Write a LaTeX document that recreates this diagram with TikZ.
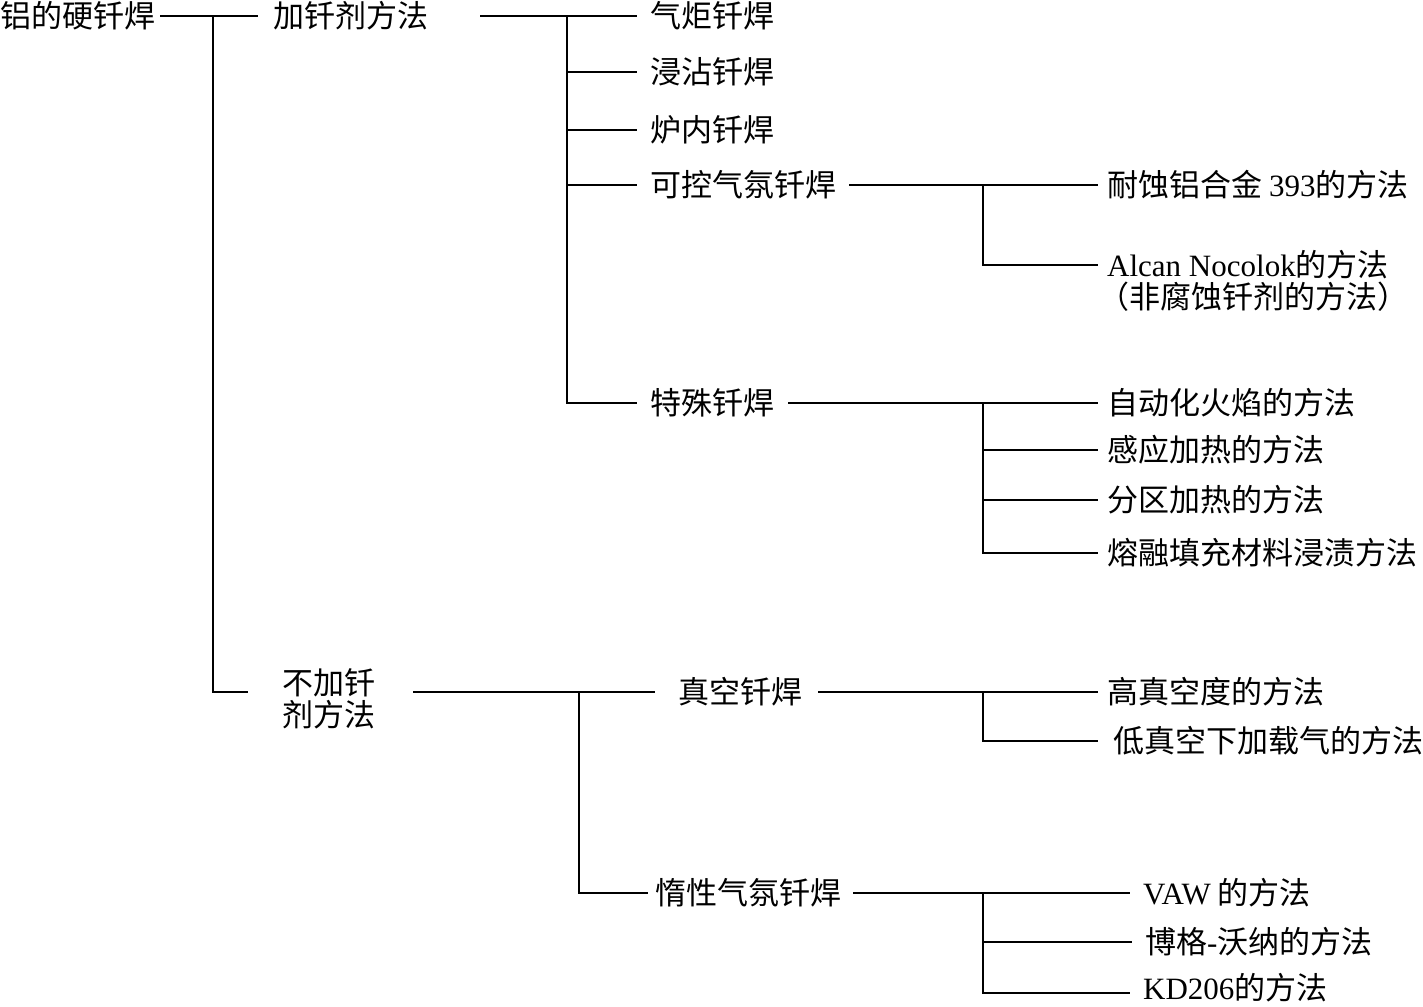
\documentclass[tikz,border=0pt]{standalone}
\usepackage{fontspec}
\setmainfont{Liberation Serif}
\newfontfamily\cjk{Noto Sans CJK SC}
\newcommand{\lt}[1]{{\rmfamily #1}}
\begin{document}
\begin{tikzpicture}[x=1pt,y=-1pt,
  lbl/.style={anchor=west,inner sep=0pt,font=\cjk\fontsize{31}{32}\selectfont,align=left},
  conn/.style={line width=1.4pt}]
\useasboundingbox (0,0) rectangle (1423,1006);
% nodes
\node[lbl] (root) at (0,16) {铝的硬钎焊};
\node[lbl] (a1) at (273,16) {加钎剂方法};
\node[lbl] (a2) at (282,699) {不加钎\\剂方法};
\node[lbl] (b1) at (650,16) {气炬钎焊};
\node[lbl] (b2) at (650,72) {浸沾钎焊};
\node[lbl] (b3) at (650,130) {炉内钎焊};
\node[lbl] (b4) at (650,185) {可控气氛钎焊};
\node[lbl] (b5) at (650,403) {特殊钎焊};
\node[lbl] (c1) at (1107,185) {耐蚀铝合金 \lt{393}的方法};
\node[lbl] (c2) at (1107,281) {\lt{Alcan Nocolok}的方法\\\hspace*{-9pt}（非腐蚀钎剂的方法）};
\node[lbl] (d1) at (1107,403) {自动化火焰的方法};
\node[lbl] (d2) at (1107,450) {感应加热的方法};
\node[lbl] (d3) at (1107,500) {分区加热的方法};
\node[lbl] (d4) at (1107,553) {熔融填充材料浸渍方法};
\node[lbl] (e1) at (678,692) {真空钎焊};
\node[lbl] (e2) at (655,893) {惰性气氛钎焊};
\node[lbl] (f1) at (1107,692) {高真空度的方法};
\node[lbl] (f2) at (1113,741) {低真空下加载气的方法};
\node[lbl] (g1) at (1143,893) {\lt{VAW} 的方法};
\node[lbl] (g2) at (1145,942) {博格\lt{-}沃纳的方法};
\node[lbl] (g3) at (1143,988) {\lt{KD206}的方法};
% junctions
\coordinate (j0) at (213,16);
\coordinate (a2in) at (248,692);
\coordinate (a2out) at (413,692);
\coordinate (j1) at (567,16);
\coordinate (j2) at (983,185);
\coordinate (c2in) at (1098,265);
\coordinate (j3) at (983,403);
\coordinate (j4) at (579,692);
\coordinate (j5) at (983,692);
\coordinate (j6) at (983,893);
\coordinate (g3in) at (1130,993);
% connectors
\draw[conn,shorten <=5pt,shorten >=15pt] (root.east) -- (a1.west);
\draw[conn] (j0) |- (a2in);
\draw[conn,shorten <=52pt,shorten >=13pt] (a1.east) -- (b1.west);
\draw[conn,shorten >=13pt] (j1) |- (b2.west);
\draw[conn,shorten >=13pt] (j1) |- (b3.west);
\draw[conn,shorten >=13pt] (j1) |- (b4.west);
\draw[conn,shorten >=13pt] (j1) |- (b5.west);
\draw[conn,shorten <=13pt,shorten >=9pt] (b4.east) -- (c1.west);
\draw[conn] (j2) |- (c2in);
\draw[conn,shorten <=14pt,shorten >=9pt] (b5.east) -- (d1.west);
\draw[conn,shorten >=9pt] (j3) |- (d2.west);
\draw[conn,shorten >=9pt] (j3) |- (d3.west);
\draw[conn,shorten >=9pt] (j3) |- (d4.west);
\draw[conn,shorten >=23pt] (a2out) -- (e1.west);
\draw[conn,shorten >=7pt] (j4) |- (e2.west);
\draw[conn,shorten <=16pt,shorten >=9pt] (e1.east) -- (f1.west);
\draw[conn,shorten >=15pt] (j5) |- (f2.west);
\draw[conn,shorten <=12pt,shorten >=13pt] (e2.east) -- (g1.west);
\draw[conn,shorten >=13pt] (j6) |- (g2.west);
\draw[conn] (j6) |- (g3in);
\end{tikzpicture}
\end{document}
